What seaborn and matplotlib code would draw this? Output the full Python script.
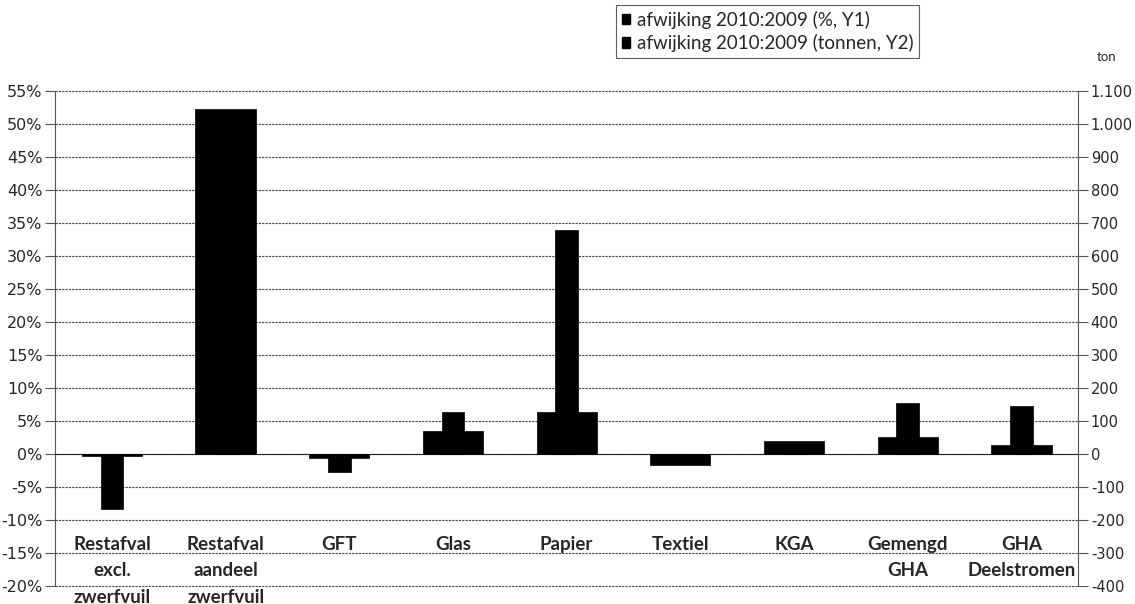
import numpy as np
import pandas as pd
import matplotlib
matplotlib.use("Agg")
import matplotlib.pyplot as plt
from matplotlib.patches import Patch
from matplotlib.ticker import FuncFormatter, MultipleLocator, FixedLocator
import seaborn as sns

categories = ["Restafval\nexcl.\nzwerfvuil", "Restafval\naandeel\nzwerfvuil", "GFT", "Glas",
              "Papier", "Textiel", "KGA", "Gemengd\nGHA", "GHA\nDeelstromen"]
pct_change = [-0.3, 52.3, -0.6, 3.5, 6.3, -1.6, 1.9, 2.6, 1.4]
ton_change = [-166, 90, -54, 126, 680, -25, 30, 156, 146]
label_pct = "afwijking 2010:2009 (%, Y1)"
label_ton = "afwijking 2010:2009 (tonnen, Y2)"

sns.set_style("white")
plt.rcParams["font.family"] = ["DejaVu Sans"]

df = pd.DataFrame({"cat": categories, "pct": pct_change, "ton": ton_change})

fig = plt.figure(figsize=(11.35, 6.04), dpi=100)
ax = fig.add_axes([0.0485, 0.03, 0.9015, 0.819])
ax2 = ax.twinx()

sns.barplot(data=df, x="cat", y="pct", color="black", width=0.53, ax=ax,
            saturation=1, edgecolor="black", linewidth=0.5, zorder=3)
sns.barplot(data=df, x="cat", y="ton", color="black", width=0.2, ax=ax2,
            saturation=1, edgecolor="black", linewidth=0.5, zorder=3)

ax.set_ylim(-20, 55)
ax2.set_ylim(-400, 1100)
ax.set_xlim(-0.5, len(categories) - 0.5)
ax.yaxis.set_major_locator(MultipleLocator(5))
ax2.yaxis.set_major_locator(MultipleLocator(100))
ax.yaxis.set_major_formatter(FuncFormatter(lambda v, p: f"{v:.0f}%"))
ax2.yaxis.set_major_formatter(FuncFormatter(lambda v, p: f"{v:,.0f}".replace(",", ".")))

ax.grid(axis="y", color="#444444", linewidth=0.8, linestyle=(0, (2, 1)), zorder=0)
ax.set_axisbelow(True)
for gl in ax.yaxis.get_gridlines():
    gl.set_clip_on(False)

for a in (ax, ax2):
    a.set_xlabel("")
    a.set_ylabel("")
    a.spines["top"].set_visible(False)
ax.spines["bottom"].set_position(("data", 0))
ax.spines["bottom"].set_color("#222222")
ax.spines["left"].set_color("#555555")
ax2.spines["right"].set_color("#555555")
ax2.spines["bottom"].set_visible(False)
ax2.spines["left"].set_visible(False)
ax.spines["right"].set_visible(False)

# category labels under the zero line, tick marks at category boundaries
ax.set_xticks(range(len(categories)))
ax.set_xticklabels(categories, fontfamily="Lato", fontweight="bold", fontsize=13.5,
                   linespacing=1.68)
ax.tick_params(axis="x", which="major", length=0, pad=59)
ax.xaxis.set_minor_locator(FixedLocator(np.arange(0.5, len(categories) - 1, 1)))
ax.tick_params(axis="x", which="minor", length=5, direction="out", color="#222222")
ax2.tick_params(axis="x", which="both", length=0, labelbottom=False)

ax.tick_params(axis="y", length=7, direction="out", color="#555555", labelsize=11.5, pad=2,
               left=True)
ax2.tick_params(axis="y", length=7, direction="out", color="#555555", labelsize=10.5, pad=2,
                right=True)

fig.text(0.975, 0.905, "ton", fontsize=9.5, fontfamily="Lato", ha="center", va="center")

handles = [Patch(facecolor="black", edgecolor="black", label=label_pct),
           Patch(facecolor="black", edgecolor="black", label=label_ton)]
leg = fig.legend(handles=handles, loc="upper left", bbox_to_anchor=(0.543, 0.992),
                 frameon=True, fancybox=False, prop={"family": "Lato", "size": 13.5},
                 handlelength=0.45, handleheight=0.45, handletextpad=0.35,
                 borderpad=0.3, labelspacing=0.3, borderaxespad=0)
leg.get_frame().set_edgecolor("#333333")
leg.get_frame().set_linewidth(0.8)

fig.savefig("out.png", dpi=100)
